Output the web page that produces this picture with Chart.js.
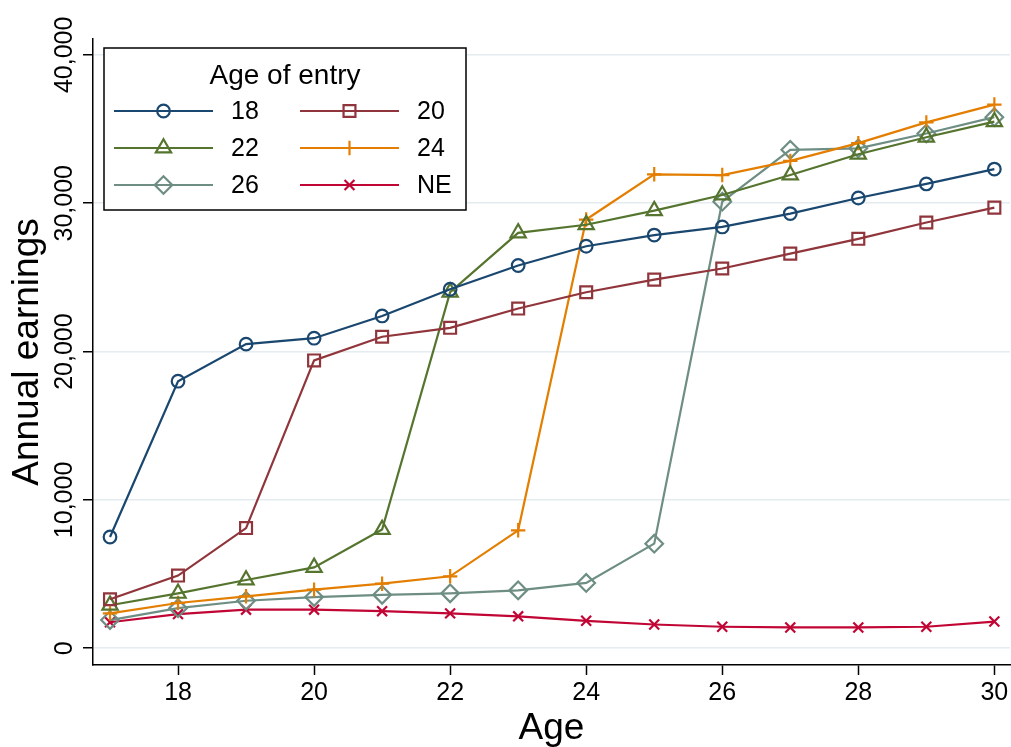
<!DOCTYPE html>
<html>
<head>
<meta charset="utf-8">
<script src="https://cdn.jsdelivr.net/npm/chart.js@4.4.0/dist/chart.umd.min.js"></script>
<style>
  body { margin: 0; background: #fff; }
  #holder { width: 1011px; height: 747px; }
</style>
</head>
<body>
<div id="holder"><canvas id="earnings" width="1011" height="747"></canvas></div>
<script>
// ages on the x axis
let ages = [17, 18, 19, 20, 21, 22, 23, 24, 25, 26, 27, 28, 29, 30]

// annual earnings by age of entry
let entry18 = [7500, 18000, 20500, 20900, 22400, 24200, 25800, 27100, 27850, 28400, 29300, 30350, 31300, 32300]
let entry20 = [3300, 4900, 8100, 19400, 21000, 21600, 22900, 24000, 24850, 25600, 26600, 27600, 28700, 29700]
let entry22 = [2900, 3700, 4600, 5450, 8000, 24000, 28000, 28550, 29500, 30550, 31900, 33300, 34450, 35500]
let entry24 = [2350, 3050, 3500, 3950, 4350, 4850, 7950, 28900, 31950, 31900, 32850, 34050, 35450, 36650]
let entry26 = [1900, 2700, 3200, 3450, 3600, 3700, 3900, 4400, 7050, 30100, 33600, 33700, 34700, 35800]
let entryNE = [1750, 2300, 2600, 2600, 2500, 2350, 2150, 1850, 1600, 1450, 1400, 1400, 1450, 1800]

let seriesLabels = ["18", "20", "22", "24", "26", "NE"]
let legendTitle = "Age of entry"
let xTicks = [18, 20, 22, 24, 26, 28, 30]
let yTicks = [0, 10000, 20000, 30000, 40000]

const FONT = '"Liberation Sans", Arial, Helvetica, sans-serif'

function series(label, values, color, style, radius){
    return {
        label: label,
        data: values.map(function(v, i){
            return {x: ages[i], y: v}
        }),
        borderColor: color,
        backgroundColor: 'rgba(0,0,0,0)',
        borderWidth: 2.2,
        pointStyle: style,
        pointRadius: radius,
        pointHoverRadius: radius,
        pointBorderWidth: 2.2,
        pointBorderColor: color,
        pointBackgroundColor: 'rgba(0,0,0,0)',
        tension: 0
    }
}

// y tick labels are vertical, drawn from the y scale
const yTickLabels = {
    id: 'yTickLabels',
    afterDraw(chart){
        let s = chart.scales.y
        let ctx = chart.ctx
        ctx.save()
        ctx.font = '25px ' + FONT
        ctx.fillStyle = '#000'
        ctx.textAlign = 'center'
        ctx.textBaseline = 'alphabetic'
        s.ticks.forEach(function(t){
            let y = s.getPixelForValue(t.value)
            ctx.save()
            ctx.translate(s.right - 21, y)
            ctx.rotate(-Math.PI / 2)
            ctx.fillText(t.value.toLocaleString('en-US'), 0, 0)
            ctx.restore()
        })
        ctx.restore()
    }
}

// boxed legend in the top left of the plot
const entryLegend = {
    id: 'entryLegend',
    afterDraw(chart){
        let ctx = chart.ctx
        let a = chart.chartArea
        let bx = a.left + 11, by = a.top + 9, bw = 362, bh = 162
        ctx.save()
        ctx.fillStyle = '#fff'
        ctx.fillRect(bx, by, bw, bh)
        ctx.strokeStyle = '#000'
        ctx.lineWidth = 1.5
        ctx.strokeRect(bx, by, bw, bh)

        ctx.fillStyle = '#000'
        ctx.font = '28px ' + FONT
        ctx.textAlign = 'center'
        ctx.textBaseline = 'alphabetic'
        ctx.fillText(legendTitle, bx + bw / 2, by + 36)

        chart.data.datasets.forEach(function(ds, i){
            let col = i % 2
            let row = Math.floor(i / 2)
            let x0 = bx + 10 + col * 186
            let y = by + 63 + row * 37
            ctx.strokeStyle = ds.borderColor
            ctx.lineWidth = ds.borderWidth
            ctx.beginPath()
            ctx.moveTo(x0, y)
            ctx.lineTo(x0 + 99, y)
            ctx.stroke()
            ctx.fillStyle = 'rgba(0,0,0,0)'
            ctx.lineWidth = ds.pointBorderWidth
            Chart.helpers.drawPoint(ctx, {
                pointStyle: ds.pointStyle,
                radius: ds.pointRadius,
                borderWidth: ds.pointBorderWidth,
                rotation: 0
            }, x0 + 49.5, y)
            ctx.fillStyle = '#000'
            ctx.font = '25px ' + FONT
            ctx.textAlign = 'left'
            ctx.textBaseline = 'middle'
            ctx.fillText(ds.label, x0 + 117, y + 1)
        })
        ctx.restore()
    }
}

let chart = new Chart(
    document.querySelector('#earnings'),
    {
        type: 'line',
        data: {
            datasets: [
                series(seriesLabels[0], entry18, '#1a476f', 'circle', 6.3),
                series(seriesLabels[1], entry20, '#90353b', 'rect', 8.4),
                series(seriesLabels[2], entry22, '#55752f', 'triangle', 8.8),
                series(seriesLabels[3], entry24, '#e37e00', 'cross', 7.2),
                series(seriesLabels[4], entry26, '#6e8e84', 'rectRot', 8.8),
                series(seriesLabels[5], entryNE, '#c10534', 'crossRot', 7)
            ]
        },
        options: {
            responsive: false,
            animation: false,
            devicePixelRatio: 1,
            layout: {
                autoPadding: false,
                padding: { top: 39, right: 1, left: 0, bottom: 0 }
            },
            plugins: {
                legend: { display: false },
                tooltip: { enabled: false }
            },
            scales: {
                x: {
                    type: 'linear',
                    min: 16.75,
                    max: 30.23,
                    afterBuildTicks: function(s){
                        s.ticks = xTicks.map(function(v){ return {value: v} })
                    },
                    afterFit: function(s){
                        s.height = 82
                        s.paddingLeft = 0
                        s.paddingRight = 0
                    },
                    border: { display: true, color: '#000', width: 1.5 },
                    grid: {
                        drawOnChartArea: false,
                        drawTicks: true,
                        tickLength: 10,
                        tickColor: '#000',
                        tickWidth: 1.5
                    },
                    ticks: {
                        color: '#000',
                        font: { family: FONT, size: 25 },
                        padding: 3,
                        maxRotation: 0,
                        callback: function(v){ return String(v) }
                    },
                    title: {
                        display: true,
                        text: 'Age',
                        color: '#000',
                        font: { family: FONT, size: 37, lineHeight: 1.0 },
                        padding: { top: 0, bottom: 0 }
                    }
                },
                y: {
                    type: 'linear',
                    min: -1130,
                    max: 41070,
                    afterBuildTicks: function(s){
                        s.ticks = yTicks.map(function(v){ return {value: v} })
                    },
                    afterFit: function(s){
                        s.width = 93
                        s.paddingTop = 0
                        s.paddingBottom = 0
                    },
                    border: { display: true, color: '#000', width: 1.5 },
                    grid: {
                        color: '#e4ecef',
                        lineWidth: 1.5,
                        drawTicks: true,
                        tickLength: 10,
                        tickColor: '#000',
                        tickWidth: 1.5
                    },
                    ticks: { display: false },
                    title: {
                        display: true,
                        text: 'Annual earnings',
                        color: '#000',
                        font: { family: FONT, size: 37, lineHeight: 1.0 },
                        padding: { top: 9, bottom: 0 }
                    }
                }
            }
        },
        plugins: [yTickLabels, entryLegend]
    }
)
</script>
</body>
</html>
